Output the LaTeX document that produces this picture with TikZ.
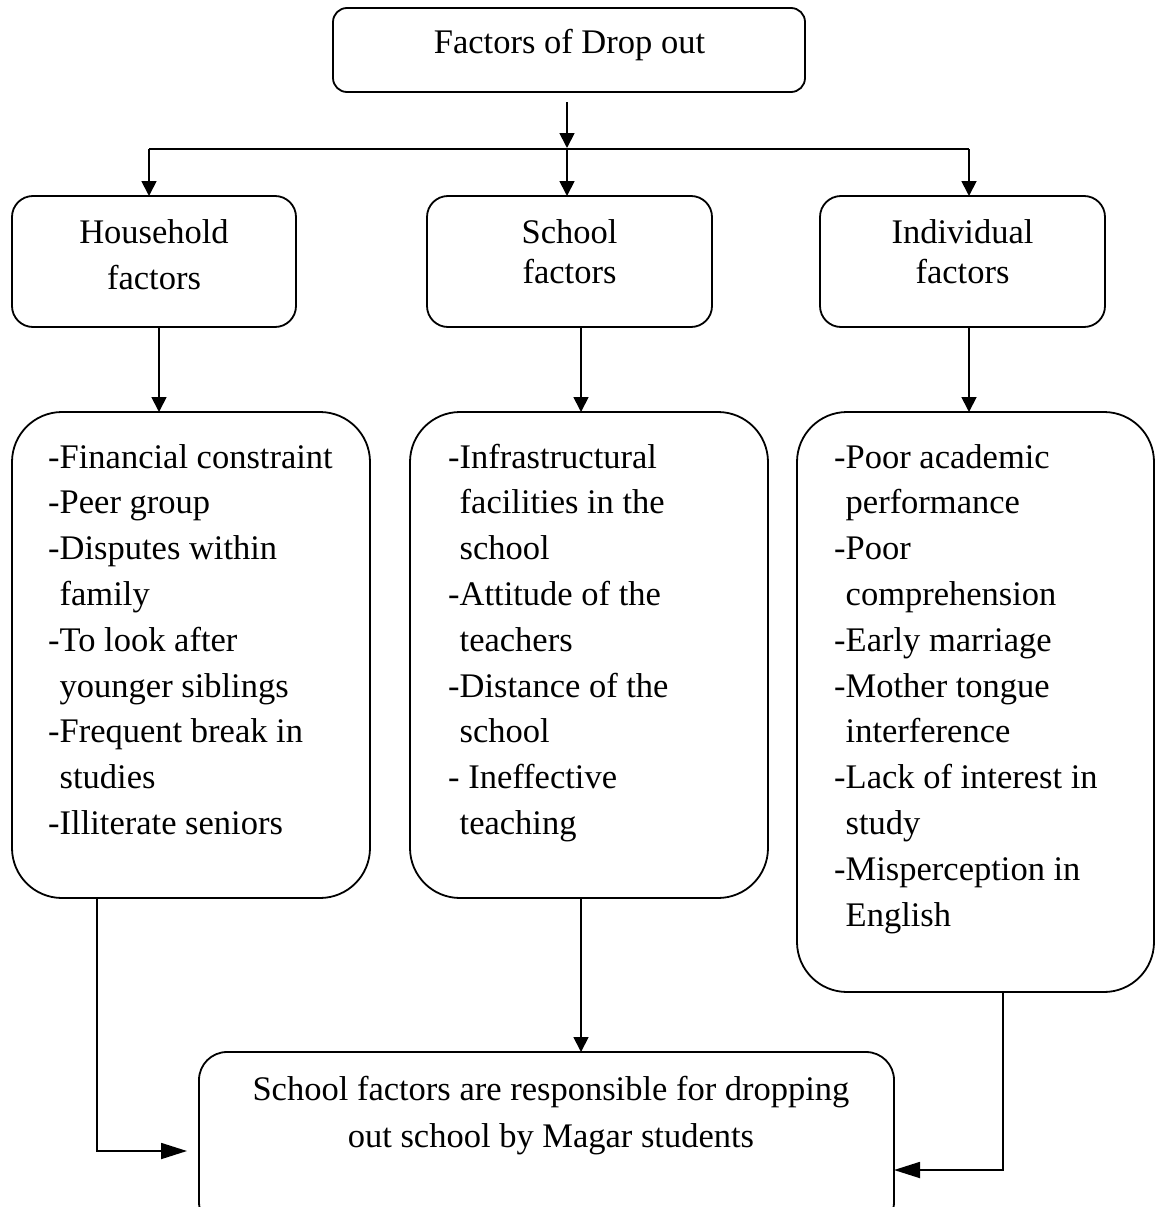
\documentclass[tikz,border=0pt]{standalone}
\usepackage{fontspec}
\setmainfont{Liberation Serif}
\usetikzlibrary{arrows.meta,calc}
\tikzset{
  box/.style={draw, line width=1.8pt, inner sep=0pt, outer sep=0pt},
  txtl/.style={font=\fontsize{34.5pt}{45.8pt}\selectfont, inner sep=0pt, anchor=base west},
  txtc/.style={font=\fontsize{34.5pt}{45.8pt}\selectfont, inner sep=0pt, anchor=base},
  arr/.style={line width=1.8pt, -{Triangle[length=15pt,width=15pt]}},
  harr/.style={line width=1.8pt, -{Triangle[length=26pt,width=16pt]}},
  ln/.style={line width=1.8pt}
}
\begin{document}
\begin{tikzpicture}[x=1pt,y=-1pt]
\useasboundingbox (0,0) rectangle (1155,1207);
\clip (0,0) rectangle (1155,1207);

% boxes
\node[box, rounded corners=14pt, minimum width=472pt, minimum height=84pt] (top) at (569,50) {};
\node[box, rounded corners=21pt, minimum width=284pt, minimum height=131pt] (hh) at (154,261.5) {};
\node[box, rounded corners=21pt, minimum width=285pt, minimum height=131pt] (sch) at (569.5,261.5) {};
\node[box, rounded corners=21pt, minimum width=285pt, minimum height=131pt] (ind) at (962.5,261.5) {};
\node[box, rounded corners=50pt, minimum width=358pt, minimum height=486pt] (hl) at (191,655) {};
\node[box, rounded corners=50pt, minimum width=358pt, minimum height=486pt] (sl) at (589,655) {};
\node[box, rounded corners=50pt, minimum width=357pt, minimum height=580pt] (il) at (975.5,702) {};
\node[box, rounded corners=28pt, minimum width=695pt, minimum height=178pt] (bot) at (546.5,1141) {};

% titles
\node[txtc] (ttop) at (569.5,53) {Factors of Drop out};
\node[txtc] (thh1) at (154,243) {Household};
\node[txtc] (thh2) at (154,289) {factors};
\node[txtc] (tsc1) at (569.5,243) {School};
\node[txtc] (tsc2) at (569.5,283) {factors};
\node[txtc] (tin1) at (962.5,243) {Individual};
\node[txtc] (tin2) at (962.5,283) {factors};

% lists
\foreach \t [count=\i] in {-Financial constraint,-Peer group,-Disputes within,\phantom{-}family,-To look after,\phantom{-}younger siblings,-Frequent break in,\phantom{-}studies,-Illiterate seniors}
  \node[txtl] (h\i) at (48,{468+45.8*(\i-1)}) {\t};
\foreach \t [count=\i] in {-Infrastructural,\phantom{-}facilities in the,\phantom{-}school,-Attitude of the,\phantom{-}teachers,-Distance of the,\phantom{-}school,- Ineffective,\phantom{-}teaching}
  \node[txtl] (s\i) at (448,{468+45.8*(\i-1)}) {\t};
\foreach \t [count=\i] in {-Poor academic,\phantom{-}performance,-Poor,\phantom{-}comprehension,-Early marriage,-Mother tongue,\phantom{-}interference,-Lack of interest in,\phantom{-}study,-Misperception in,\phantom{-}English}
  \node[txtl] (n\i) at (834,{468+45.8*(\i-1)}) {\t};

% bottom text
\node[txtc] (b1) at (551,1100) {School factors are responsible for dropping};
\node[txtc] (b2) at (551,1147) {out school by Magar students};

% coordinates
\coordinate (j) at (567,149);
\coordinate (jl) at (149,149);
\coordinate (jr) at (969,149);
\coordinate (xh) at (159,0);
\coordinate (xs) at (581,0);
\coordinate (xi) at (969,0);
\coordinate (xl) at (97,0);
\coordinate (xr) at (1003,0);
\coordinate (tipL) at (187,1151);
\coordinate (yR) at (0,1170);

% connectors
\draw[arr] ([shift={(-2,10)}]top.south) -- ([shift={(0,-1)}]j);
\draw[ln] (jl) -- (jr);
\draw[arr] (jl) -- (hh.north -| jl);
\draw[arr] (j) -- (sch.north -| j);
\draw[arr] (jr) -- (ind.north -| jr);

\draw[arr] (hh.south -| xh) -- (hl.north -| xh);
\draw[arr] (sch.south -| xs) -- (sl.north -| xs);
\draw[arr] (ind.south -| xi) -- (il.north -| xi);

\draw[arr] (sl.south -| xs) -- (bot.north -| xs);
\draw[harr] (hl.south -| xl) |- (tipL);
\draw[harr] (il.south -| xr) |- (bot.east |- yR);
\end{tikzpicture}
\end{document}
